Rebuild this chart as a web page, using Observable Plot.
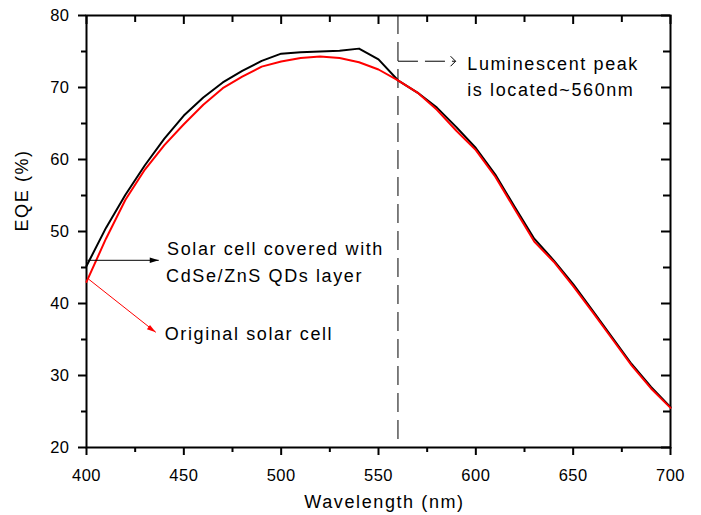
<!DOCTYPE html>
<html>
<head>
<meta charset="utf-8">
<script src="https://cdn.jsdelivr.net/npm/d3@7"></script>
<script src="https://cdn.jsdelivr.net/npm/@observablehq/plot@0.6"></script>
<style>
  html, body { margin: 0; padding: 0; background: #fff; }
  #chart svg { display: block; }
  g[aria-label="text"] text { letter-spacing: 1.6px; }
  g[aria-label="y-axis tick label"] text, g[aria-label="x-axis tick label"] text { letter-spacing: 0.5px; }
</style>
</head>
<body>
<div id="chart"></div>
<script>
// ---- data ----
const wavelength = [400,410,420,430,440,450,460,470,480,490,500,510,520,530,540,550,560,570,580,590,600,610,620,630,640,650,660,670,680,690,700];
const covered  = [45.2,50.5,55.1,59.2,62.9,66.1,68.6,70.7,72.3,73.7,74.7,74.9,75.0,75.1,75.4,73.9,71.0,69.3,67.2,64.5,61.6,57.9,53.4,49.0,46.0,42.7,39.0,35.3,31.6,28.4,25.6];
const original = [43.0,49.0,54.4,58.6,62.0,64.9,67.6,69.9,71.5,72.9,73.6,74.1,74.3,74.1,73.5,72.5,71.0,69.3,66.9,64.0,61.3,57.6,53.1,48.6,45.8,42.4,38.8,35.1,31.4,28.2,25.5];

const xTicks = [400,450,500,550,600,650,700];
const xMinor = [425,475,525,575,625,675];
const yTicks = [20,30,40,50,60,70,80];
const yMinor = [25,35,45,55,65,75];

const peakWavelength = 560;

const annotText = ["Luminescent peak","is located~560nm","Solar cell covered with","CdSe/ZnS QDs layer","Original solar cell"];
const annotX = [595.6, 595.6, 441.4, 440.9, 440.2];
const annotY = [73.3, 69.6, 47.6, 43.8, 35.7];

// arrows: [x1, y1, x2, y2]
const peakArrow = [560, 73.65, 589.6, 73.65];
const coveredArrow = [400.5, 46.0, 437.1, 46.0];
const originalArrow = [401, 43.4, 435.6, 36.0];

const xLabel = "Wavelength (nm)";
const yLabel = "EQE (%)";

// ---- build ----
const coveredRows = wavelength.map((w, i) => ({w, v: covered[i]}));
const originalRows = wavelength.map((w, i) => ({w, v: original[i]}));
const annots = annotText.map((t, i) => ({t, x: annotX[i], y: annotY[i]}));
const toLink = a => ({x1: a[0], y1: a[1], x2: a[2], y2: a[3]});

const chevron = { draw(ctx, size) { const r = Math.sqrt(size / Math.PI); ctx.moveTo(-r, -r); ctx.lineTo(0, 0); ctx.lineTo(-r, r); } };
const head = { draw(ctx, size) { const r = Math.sqrt(size / Math.PI); ctx.moveTo(0, 0); ctx.lineTo(-2 * r, -0.6 * r); ctx.lineTo(-2 * r, 0.6 * r); ctx.closePath(); } };

const font = "'Liberation Sans', Arial, Helvetica, sans-serif";

const chart = Plot.plot({
  width: 701,
  height: 515,
  marginLeft: 86,
  marginRight: 31,
  marginTop: 15,
  marginBottom: 68,
  style: { fontFamily: font, fontSize: "16px", color: "#000", background: "#fff" },
  x: { domain: [400, 700] },
  y: { domain: [20, 80] },
  marks: [
    // axes: bottom / left outward
    Plot.axisX({ticks: xTicks, anchor: "bottom", tickSize: 8, tickPadding: 14, strokeWidth: 2, label: null, fontSize: 16.5}),
    Plot.axisX({ticks: xMinor, anchor: "bottom", tickSize: 5, text: null, strokeWidth: 2, label: null}),
    Plot.axisY({ticks: yTicks, anchor: "left", tickSize: 8, tickPadding: 9, strokeWidth: 2, label: null, fontSize: 16.5}),
    Plot.axisY({ticks: yMinor, anchor: "left", tickSize: 5, text: null, strokeWidth: 2, label: null}),
    // mirrored inward ticks on top / right
    Plot.axisX({ticks: xTicks, anchor: "bottom", frameAnchor: "top", tickSize: 9, text: null, strokeWidth: 2, label: null}),
    Plot.axisX({ticks: xMinor, anchor: "bottom", frameAnchor: "top", tickSize: 7, text: null, strokeWidth: 2, label: null}),
    Plot.axisY({ticks: yTicks, anchor: "left", frameAnchor: "right", tickSize: 9, text: null, strokeWidth: 2, label: null}),
    Plot.axisY({ticks: yMinor, anchor: "left", frameAnchor: "right", tickSize: 7, text: null, strokeWidth: 2, label: null}),
    Plot.frame({stroke: "#000", strokeWidth: 2}),

    // peak marker
    Plot.ruleX([peakWavelength], {stroke: "#000", strokeWidth: 1, strokeDasharray: "19,8"}),
    Plot.link([toLink(peakArrow)], {x1: "x1", y1: "y1", x2: "x2", y2: "y2", stroke: "#000", strokeWidth: 1, strokeDasharray: "20,7"}),
    Plot.dot([toLink(peakArrow)], {x: "x2", y: "y2", symbol: chevron, r: 5, fill: "none", stroke: "#000", strokeWidth: 1}),

    // series
    Plot.line(coveredRows, {x: "w", y: "v", stroke: "#000", strokeWidth: 2}),
    Plot.line(originalRows, {x: "w", y: "v", stroke: "#ff0000", strokeWidth: 2}),

    // legend arrows
    Plot.link([toLink(coveredArrow)], {x1: "x1", y1: "y1", x2: "x2", y2: "y2", stroke: "#000", strokeWidth: 1}),
    Plot.dot([toLink(coveredArrow)], {x: "x2", y: "y2", symbol: head, r: 4.5, fill: "#000", stroke: "none"}),
    Plot.link([toLink(originalArrow)], {x1: "x1", y1: "y1", x2: "x2", y2: "y2", stroke: "#ff0000", strokeWidth: 1}),
    Plot.dot([toLink(originalArrow)], {x: "x2", y: "y2", symbol: head, r: 4.5, fill: "#ff0000", stroke: "none", rotate: 35}),

    // annotations
    Plot.text(annots, {x: "x", y: "y", text: "t", textAnchor: "start", fontSize: 18, fill: "#000"}),

    // axis titles
    Plot.text([xLabel], {frameAnchor: "bottom", dy: 60, dx: 6, fontSize: 18, fill: "#000"}),
    Plot.text([yLabel], {frameAnchor: "left", rotate: -90, dx: -64, fontSize: 18, fill: "#000"})
  ]
});

document.getElementById("chart").appendChild(chart);
</script>
</body>
</html>
